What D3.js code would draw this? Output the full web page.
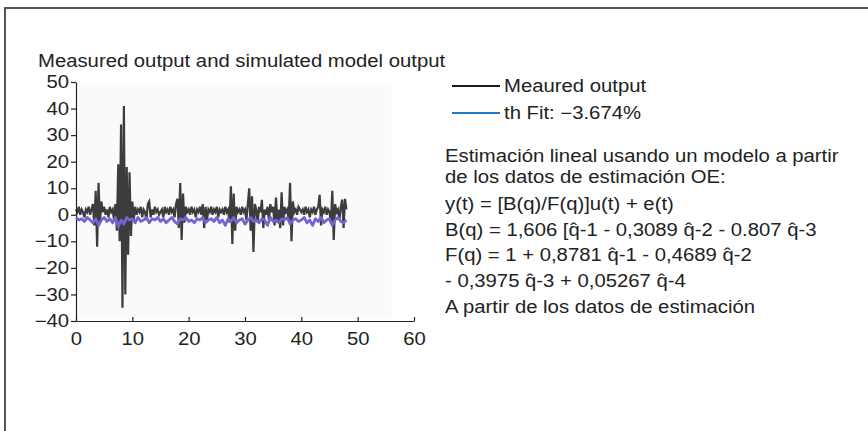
<!DOCTYPE html>
<html>
<head>
<meta charset="utf-8">
<script src="https://cdn.jsdelivr.net/npm/d3@7"></script>
<style>
  body { margin: 0; background: #fff; }
  text { font-family: "Liberation Sans", Arial, sans-serif; fill: #222; }
</style>
</head>
<body>
<div id="chart"></div>
<script>
// measured output, one sample every 0.25 s (t = 0 .. 48)
var measuredStep = 0.25;
var measured = [
  2, 1, 3, 0, 2, 1, -1, 2, 1, 3, 0, 2,
  4, -4, 9, -12, 12, -3, 5,
  1, 3, 0, 2, -1, 3, 1, 2, -2, 4,
  -6, 19, -10, 34, -35, 41, -30, 18, -15, 16, -8,
  5, -2, 3, 0, 2, 1, 3, -1, 2,
  1, -2, 4, 5, -1, 2, 0,
  3, 1, 2, 0, 1, 2, -1, 3, 1, 2, 0, 3, 1, 2, -1, 4,
  6, -5, 12, -9.5, 8, -3, 3,
  1, 2, 0, 3, 1, 2, -1, 2, 1, 3, 0, 4, -5, 3, -2, 2, 1,
  3, 0, 2, 1, 3, -1, 2, 1, 2, 0, 3, 1,
  2, -3, 10.7, -11, 8, -6, 3, 1,
  2, 0, 3, 1, 2, -2, 4, 10, -6, 7, -14, 4,
  2, -3, 3, 1, 5.6, -5, 2, 0,
  3, -2, 4, 1, 3, -4, 6.5, -3,
  2, -5, 8.5, -4, 3, 1, 2, -2,
  12, -10, 5, 1, 2, 0, 3, 2,
  1, 2, 0, 3, 1, 2, -1, 2, 1, 3, 0, 2,
  3, 7.5, -4, 2, 1, 3, 0, 2,
  1, -3, 9, -9.5, 4, 1, 2, -2,
  3, 5.7, -5, 6, 2
];
// simulated model output, one sample every 0.5 s
var simulatedStep = 0.5;
var simulated = [
  -1, -2, -1.5, -2.5, -1, -2, -3, -1.5, -4, -2, -1, -2.5, -1.5, -3, -1, -4.5,
  -2, -3.5, -1, -2, -1.5, -3, -1, -2.5, -2, -1, -3, -1.5, -2, -1, -2.5, -1.5,
  -3, -2, -1, -2.5, -3.5, -1.5, -2, -1, -2.5, -2, -3, -1.5, -2, -1, -3, -2,
  -1.5, -2.5, -1, -3, -2, -4, -1.5, -2.5, -1, -3, -2, -1.5, -3.5, -2, -1, -2.5,
  -2, -3, -1.5, -2, -4, -1, -2.5, -2, -3, -1.5, -2, -1, -3.5, -2, -1.5, -2.5,
  -2, -1, -3, -2, -4, -1.5, -2.5, -1, -3, -2, -1.5, -4, -2, -1, -2.5, -3, -2
];
var xTicks = [0, 10, 20, 30, 40, 50, 60];
var yTicks = [50, 40, 30, 20, 10, 0, -10, -20, -30, -40];
var legendLabels = ["Meaured output", "th Fit: \u22123.674%"];
var legendColors = ["#1a1a1a", "#1f78c8"];
var noteLines = [
  "Estimación lineal usando un modelo a partir",
  "de los datos de estimación OE:",
  "y(t) = [B(q)/F(q)]u(t) + e(t)",
  "B(q) = 1,606 [q̂-1 - 0,3089 q̂-2 - 0.807 q̂-3",
  "F(q) = 1 + 0,8781 q̂-1 - 0,4689 q̂-2",
  "- 0,3975 q̂-3 + 0,05267 q̂-4",
  "A partir de los datos de estimación"
];
var noteBaselines = [162, 183, 210, 236, 261, 287, 313];

var width = 868, height = 431;
var stretch = 1.16;
var fontSize = 17.5;
var svg = d3.select("#chart").append("svg")
  .attr("width", width)
  .attr("height", height);

function wideText(g, x, y, str) {
  return g.append("text")
    .attr("transform", "translate(" + x + "," + y + ") scale(" + stretch + ",1)")
    .attr("font-size", fontSize)
    .text(str);
}

// frame
svg.append("path")
  .attr("d", "M5,431 V8 H868")
  .attr("fill", "none")
  .attr("stroke", "#555")
  .attr("stroke-width", 2);

wideText(svg, 38, 67, "Measured output and simulated model output");

var x = d3.scaleLinear().domain([0, 60]).range([76, 414]);
var y = d3.scaleLinear().domain([-40, 50]).range([321, 82]);

svg.append("rect")
  .attr("x", x(0.3)).attr("y", y(49))
  .attr("width", x(56) - x(0.3)).attr("height", y(-39.3) - y(49))
  .attr("fill", "#fafafa");

var yAxis = svg.append("g")
  .attr("transform", "translate(" + x(0) + ",0)")
  .call(d3.axisLeft(y).tickValues(yTicks).tickSizeOuter(0).tickSizeInner(5).tickPadding(1));
var xAxis = svg.append("g")
  .attr("transform", "translate(0," + y(-40) + ")")
  .call(d3.axisBottom(x).tickValues(xTicks).tickSizeOuter(0).tickSizeInner(-4).tickPadding(12));
[xAxis, yAxis].forEach(function(g) {
  g.selectAll("text")
    .attr("font-size", fontSize)
    .attr("font-family", "Liberation Sans, Arial, sans-serif")
    .attr("fill", "#222")
    .attr("transform", "scale(" + stretch + ",1)");
  g.selectAll("line, path").attr("stroke", "#222").attr("stroke-width", 1.2);
});

var line = d3.line()
  .x(function(d) { return x(d.t); })
  .y(function(d) { return y(d.v); });

var measuredData = measured.map(function(v, i) { return {t: i * measuredStep, v: v}; });
var simulatedData = simulated.map(function(v, i) { return {t: i * simulatedStep, v: v}; });

svg.append("path")
  .datum(measuredData)
  .attr("fill", "none")
  .attr("stroke", "#1a1a1a")
  .attr("stroke-opacity", 0.85)
  .attr("stroke-width", 2.2)
  .attr("d", line);

svg.append("path")
  .datum(simulatedData)
  .attr("fill", "none")
  .attr("stroke", "#7463d2")
  .attr("stroke-width", 2.8)
  .attr("stroke-linejoin", "round")
  .attr("d", line);

// legend
var legend = svg.append("g");
legendLabels.forEach(function(label, i) {
  var ly = 86 + i * 27;
  legend.append("line")
    .attr("x1", 452).attr("x2", 500).attr("y1", ly).attr("y2", ly)
    .attr("stroke", legendColors[i]).attr("stroke-width", 2);
  wideText(legend, 504, ly + 6, label);
});

var notes = svg.append("g");
noteLines.forEach(function(t, i) {
  wideText(notes, 445, noteBaselines[i], t);
});
</script>
</body>
</html>
